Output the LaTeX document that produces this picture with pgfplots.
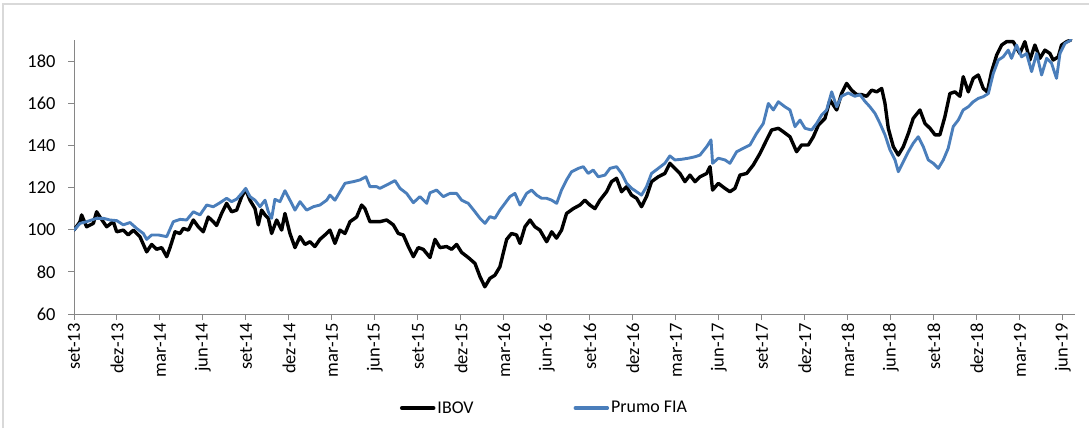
\documentclass[border=0pt]{standalone}
\usepackage{fontspec}
\setmainfont{Carlito}
\usepackage{pgfplots}
\pgfplotsset{compat=1.18}
\definecolor{prumo}{RGB}{74,126,187}
\definecolor{axisgray}{RGB}{134,134,134}
\definecolor{framegray}{RGB}{217,217,217}
\begin{document}
\begin{tikzpicture}[x=1bp,y=1bp]
\useasboundingbox (0,0) rectangle (1089,428);
\draw[framegray, line width=1.2bp] (3,0) -- (3,424) -- (1089,424);
\begin{axis}[
  at={(74bp,114bp)}, anchor=south west,
  width=1001bp, height=274bp, scale only axis,
  xmin=0, xmax=69.85, ymin=60, ymax=190,
  axis x line*=bottom, axis y line*=left,
  axis line style={axisgray, line width=1bp},
  xtick={0,3,...,69},
  xticklabels={set-13,dez-13,mar-14,jun-14,set-14,dez-14,mar-15,jun-15,set-15,dez-15,mar-16,jun-16,set-16,dez-16,mar-17,jun-17,set-17,dez-17,mar-18,jun-18,set-18,dez-18,mar-19,jun-19},
  x tick label style={rotate=90, anchor=east, font=\fontsize{18.5}{18.5}\selectfont},
  ytick={60,80,...,180},
  y tick label style={font=\fontsize{18.5}{18.5}\selectfont, xshift=-9bp},
  /pgf/number format/assume math mode=true,
  tick style={axisgray, line width=1bp},
  tick align=outside, major tick length=6bp,
  xtick pos=bottom, ytick pos=left,
  legend style={at={(0.47,-0.343)}, anchor=center, draw=none, fill=none,
    font=\fontsize{18}{18}\selectfont, legend columns=2,
    /tikz/every even column/.append style={column sep=98bp}},
  legend cell align=left,
  legend image code/.code={\draw[#1, line width=3.5bp] (0bp,0bp) -- (32bp,0bp);},
  every axis plot/.append style={line join=round, line cap=round},
]
\addplot[black, line width=3.4bp] coordinates {
(0,99.8) (0.42,103.8) (0.53,107) (0.88,101.4) (1.35,103) (1.58,108.5) (1.81,106) (2.28,101.4) (2.74,103.8) (2.98,99)
(3.44,99.8) (3.79,97.5) (4.14,99.8) (4.6,96.7) (5.07,89.5) (5.42,93) (5.77,90.7) (6.12,91.5) (6.47,87.2) (6.7,91.5)
(7.05,99) (7.4,98.2) (7.63,100.6) (7.98,99.8) (8.33,104.6) (8.67,101.4) (9.02,99) (9.37,106) (9.72,103.8) (9.95,102)
(10.3,107.7) (10.65,112.5) (11.0,108.5) (11.35,109.3) (11.7,115.7) (11.98,119.1) (12.28,114) (12.63,110) (12.86,102.3) (13.09,109.3)
(13.33,107) (13.56,105.4) (13.79,98.2) (14.14,104.6) (14.49,99.8) (14.72,107.7) (15.07,98.2) (15.42,91.5) (15.77,96.7) (16.12,93)
(16.47,94.3) (16.81,92) (17.16,95.4) (17.51,97.5) (17.86,99.8) (18.21,93.5) (18.56,99.8) (18.91,98.2) (19.26,103.8) (19.72,106)
(20.07,111.7) (20.3,110) (20.65,103.8) (21.12,103.8) (21.35,103.8) (21.82,104.6) (22.28,102.3) (22.63,98.2) (22.98,97.5) (23.33,92)
(23.68,87.2) (24.02,91.5) (24.37,90.7) (24.84,86.8) (25.19,95.4) (25.54,91.5) (26.0,92) (26.35,90.7) (26.7,93) (27.05,89.2)
(27.51,86.8) (27.98,84) (28.33,77.7) (28.67,72.9) (29.02,76.9) (29.37,78.4) (29.72,82.4) (29.95,88.8) (30.19,95.4) (30.53,98.2)
(30.88,97.5) (31.12,93.5) (31.47,101.4) (31.82,104.6) (32.16,101.4) (32.51,99.8) (32.98,94.3) (33.33,99) (33.67,96) (34.02,99.8)
(34.37,107.7) (34.84,110) (35.3,111.7) (35.65,114) (36.0,111.7) (36.35,110) (36.7,114) (37.16,118) (37.51,122.8) (37.86,124.4)
(38.21,118) (38.56,120.4) (38.9,116.4) (39.26,114.9) (39.6,110.9) (39.95,115.7) (40.3,122.8) (40.77,125.1) (41.23,126.7) (41.58,131.5)
(41.93,129.1) (42.28,126.7) (42.63,122.8) (42.98,125.9) (43.33,122.8) (43.68,125.1) (44.15,126.7) (44.38,129.9) (44.56,118.8) (44.96,122)
(45.42,119.6) (45.77,118) (46.12,119.6) (46.47,125.9) (46.94,126.7) (47.4,130.7) (47.87,136.2) (48.33,142.6) (48.68,147.3) (49.15,148.1)
(49.49,146.5) (49.96,144.1) (50.42,137) (50.77,140.2) (51.24,140.2) (51.59,144.1) (51.94,149.6) (52.4,152.8) (52.75,161.5) (53.22,156.8)
(53.56,164.6) (53.91,169.4) (54.26,166.2) (54.61,164.1) (54.96,164.1) (55.31,163.3) (55.66,166.2) (56.01,165.4) (56.36,167) (56.59,159.9)
(56.82,148.1) (57.17,139.4) (57.52,135.4) (57.87,139.4) (58.22,145.7) (58.56,152.8) (59.03,156.8) (59.38,150.4) (59.73,148.1) (60.08,145)
(60.42,145) (60.77,153.6) (61.12,164.6) (61.47,165.4) (61.82,163.3) (62.05,172.6) (62.4,165.4) (62.75,171.8) (63.1,173.4) (63.45,167)
(63.73,165.4) (64.03,175) (64.38,182.8) (64.73,187.6) (65.07,189.2) (65.54,189.2) (66.0,183.6) (66.35,189.2) (66.7,180.5) (67.05,187.6)
(67.4,181.3) (67.75,185.2) (68.1,183.6) (68.33,180.5) (68.68,182) (68.91,187.6) (69.26,189.2) (69.56,190)
};
\addlegendentry{IBOV}
\addplot[prumo, line width=2.9bp] coordinates {
(0,99.8) (0.42,103) (0.88,103.8) (1.58,105.4) (2.05,105.4) (2.51,104.6) (2.98,104.3) (3.44,102.3) (3.91,103.4) (4.37,100.6)
(4.84,98.2) (5.07,95.4) (5.42,97.5) (5.88,97.5) (6.47,96.7) (6.93,103.8) (7.4,104.9) (7.86,104.6) (8.33,108.5) (8.79,107)
(9.26,111.7) (9.72,110.9) (10.19,112.8) (10.65,114.9) (11.0,113.3) (11.35,114.5) (11.7,117.2) (11.98,119.6) (12.28,115.7) (12.63,114)
(12.98,110.9) (13.33,114) (13.56,108.5) (13.79,105.4) (14.02,114.4) (14.37,113.3) (14.72,118.5) (15.07,114) (15.42,109.3) (15.77,113.3)
(16.23,109.3) (16.7,110.9) (17.16,111.7) (17.63,114) (17.86,116.4) (18.21,114) (18.56,118) (18.91,122) (19.49,122.8) (19.95,123.6)
(20.37,125.1) (20.65,120.4) (21.12,120.4) (21.35,119.6) (21.82,121.2) (22.4,123.3) (22.75,119.6) (23.21,117.2) (23.68,112.8) (24.14,115.7)
(24.61,112.5) (24.84,117.5) (25.3,118.8) (25.77,115.7) (26.23,117.2) (26.7,117.2) (27.05,114) (27.51,112.5) (27.98,108.5) (28.33,105.4)
(28.68,103) (29.02,106.2) (29.37,105.4) (29.72,109.3) (30.07,112.5) (30.42,115.7) (30.77,117.2) (31.12,111.7) (31.58,117.2) (31.93,118.8)
(32.28,116.4) (32.63,114.9) (32.98,114.9) (33.33,114) (33.68,112.5) (34.02,118.8) (34.37,123.6) (34.72,127.5) (35.19,129.1) (35.54,129.9)
(35.88,126.7) (36.23,128.3) (36.58,125.1) (37.05,125.9) (37.4,129.1) (37.86,129.9) (38.21,126.7) (38.56,122) (38.91,119.6) (39.26,118)
(39.6,116.4) (39.95,120.4) (40.3,126.7) (40.77,129.1) (41.23,131.5) (41.58,135) (41.93,133.1) (42.4,133.4) (42.86,133.9) (43.33,134.6)
(43.68,135.4) (44.15,139.4) (44.45,142.6) (44.56,131.5) (44.96,133.9) (45.42,133.1) (45.77,131.5) (46.24,137) (46.7,138.6) (47.17,140.2)
(47.63,145.7) (48.1,150.4) (48.45,159.9) (48.8,156.8) (49.15,160.7) (49.61,158.3) (49.96,156.8) (50.31,148.9) (50.66,152) (51.01,148.1)
(51.47,147.3) (51.82,150.4) (52.17,154.4) (52.52,156.8) (52.87,165.4) (53.22,158.3) (53.56,163.3) (54.03,164.9) (54.49,163.3) (54.84,164.1)
(55.19,160.9) (55.54,158.3) (55.89,155.2) (56.24,150.4) (56.59,145) (56.94,137.8) (57.29,133.1) (57.52,127.5) (57.87,132.3) (58.22,137)
(58.56,141) (58.91,144.1) (59.26,139.4) (59.61,133.1) (59.96,131.5) (60.31,129.1) (60.66,133.1) (61.0,138.6) (61.35,148.9) (61.7,152)
(62.05,156.8) (62.4,158.3) (62.75,160.7) (63.1,162.3) (63.45,163.1) (63.8,164.6) (64.15,174.2) (64.5,180.5) (64.84,182) (65.19,185.2)
(65.42,181.3) (65.77,187.6) (66.12,182) (66.47,183.6) (66.82,175) (67.17,183.6) (67.52,173.4) (67.87,181.3) (68.21,179) (68.56,171.8)
(68.8,183.6) (69.15,188.4) (69.56,190)
};
\addlegendentry{Prumo FIA}
\end{axis}
\end{tikzpicture}
\end{document}
